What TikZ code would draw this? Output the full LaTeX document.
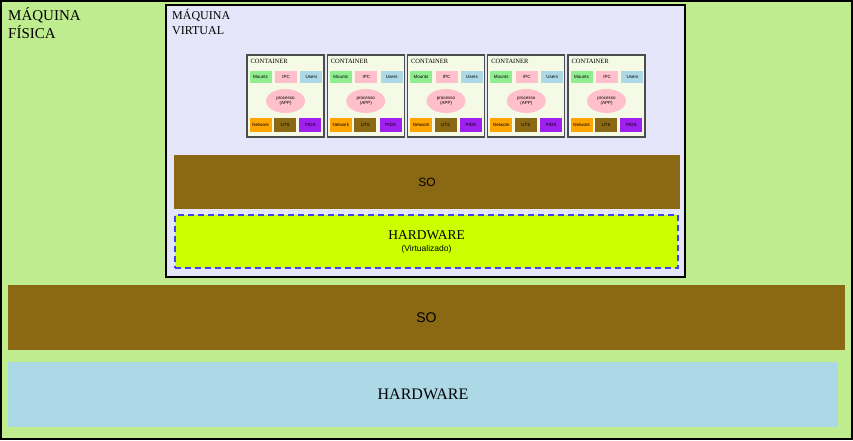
\documentclass[tikz,border=0pt]{standalone}
\usepackage{fontspec}
\setmainfont{Liberation Serif}
\newfontfamily\sansfont{Liberation Sans}
\usepackage{tikz}
\usetikzlibrary{positioning,shapes.geometric}

\definecolor{verdefisica}{RGB}{190,236,143}
\definecolor{lavanda}{RGB}{230,230,250}
\definecolor{marrom}{RGB}{139,105,20}
\definecolor{limao}{RGB}{204,255,0}
\definecolor{azulclaro}{RGB}{173,216,230}
\definecolor{creme}{RGB}{245,250,230}
\definecolor{verdeclaro}{RGB}{144,238,144}
\definecolor{rosa}{RGB}{255,192,203}
\definecolor{laranja}{RGB}{255,165,0}
\definecolor{roxo}{RGB}{160,32,240}

\tikzset{
  camada/.style={inner sep=0pt, minimum width=#1},
  conteiner/.style={draw=black!70, line width=1.2pt, fill=creme, inner sep=0pt,
    minimum width=77pt, minimum height=82pt},
  caixinha/.style={inner sep=0pt, minimum width=22pt, minimum height=12pt,
    font=\sansfont\fontsize{4.5}{5}\selectfont},
  caixabaixo/.style={caixinha, minimum height=14pt}
}

\begin{document}
\begin{tikzpicture}[x=1pt,y=-1pt]
\useasboundingbox (0,0) rectangle (853,440);

% maquina fisica
\node[draw, line width=2pt, fill=verdefisica, inner sep=0pt, minimum width=851pt, minimum height=438pt] (fisica) at (426.5,220) {};
\node[anchor=base west, inner sep=0pt, align=left, font=\fontsize{15}{18}\selectfont] (tfisica) at (8,38) {MÁQUINA\\FÍSICA};

% maquina virtual
\node[draw, line width=1.2pt, fill=lavanda, inner sep=0pt, minimum width=519pt, minimum height=272pt] (virtual) at (425.5,141) {};
\node[anchor=base west, inner sep=0pt, align=left, font=\fontsize{12}{15}\selectfont] (tvirtual) at (172,34) {MÁQUINA\\VIRTUAL};

% containers
\foreach \i in {1,...,5}{
  \pgfmathsetmacro{\cx}{285.5+80.25*(\i-1)}
  \node[conteiner] (c\i) at (\cx,96) {};
  \node[anchor=base west, inner sep=0pt, font=\fontsize{6.5}{7}\selectfont] (t\i) at ([shift={(4,9)}]c\i.north west) {CONTAINER};
  \node[caixinha, fill=verdeclaro, anchor=north west] (m\i) at ([shift={(3,16)}]c\i.north west) {Mounts};
  \node[caixinha, fill=rosa, right=3pt of m\i] (ipc\i) {IPC};
  \node[caixinha, fill=azulclaro, right=3pt of ipc\i] (u\i) {Users};
  \node[ellipse, fill=rosa, inner sep=0pt, minimum width=39pt, minimum height=24pt, align=center,
    font=\sansfont\fontsize{4.5}{5}\selectfont] (p\i) at ([yshift=-5pt]c\i.center) {processo\\(APP)};
  \node[caixabaixo, fill=laranja, anchor=north west] (n\i) at ([shift={(3,63)}]c\i.north west) {Network};
  \node[caixabaixo, fill=marrom, right=2pt of n\i] (uts\i) {UTS};
  \node[caixabaixo, fill=roxo, right=3pt of uts\i] (pid\i) {PIDS};
}

% so e hardware virtualizados
\node[camada=506pt, fill=marrom, minimum height=54pt, font=\sansfont\fontsize{12}{14}\selectfont] (sovm) at (427,182) {SO};
\node[camada=503pt, draw=blue!75!white, dashed, dash pattern=on 6pt off 4pt, line width=1.5pt, fill=limao, minimum height=53pt, align=center] (hwvm) at (426.5,241.5)
  {{\fontsize{13.5}{15}\selectfont HARDWARE}\\{\sansfont\fontsize{8.5}{10}\selectfont (Virtualizado)}};

% so e hardware fisicos
\node[camada=837pt, fill=marrom, minimum height=65pt, font=\sansfont\fontsize{14}{16}\selectfont] (so) at (426.5,317.5) {SO};
\node[camada=830pt, fill=azulclaro, minimum height=65pt, font=\fontsize{16}{18}\selectfont] (hw) at (423,394.5) {HARDWARE};
\end{tikzpicture}
\end{document}
